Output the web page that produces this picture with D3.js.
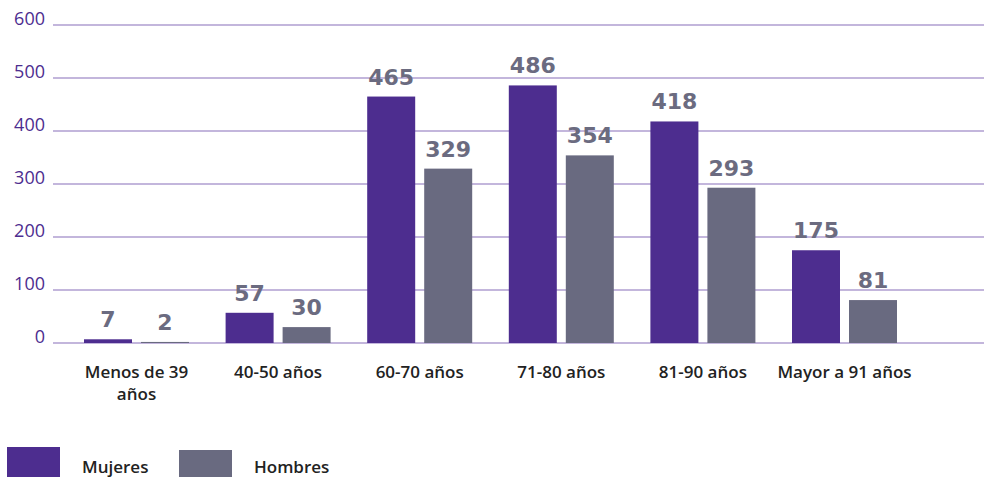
<!DOCTYPE html>
<html><head><meta charset="utf-8">
<script src="https://cdn.jsdelivr.net/npm/d3@7"></script>
<style>
html,body{margin:0;padding:0;background:#fff;}
svg{display:block;}
</style></head>
<body>
<svg id="chart" width="984" height="477"></svg>
<script>
const categories = [["Menos de 39","años"],["40-50 años"],["60-70 años"],["71-80 años"],["81-90 años"],["Mayor a 91 años"]];
const seriesNames = ["Mujeres","Hombres"];
const mujeres = [7,57,465,486,418,175];
const hombres = [2,30,329,354,293,81];
const yTicks = [0,100,200,300,400,500,600];
const colors = ["#4d2d8f","#696a80"];

const svg = d3.select("#chart");
const y = d3.scaleLinear().domain([0,600]).range([343,25]);
const x0 = d3.scaleBand().domain(d3.range(categories.length)).range([65.7,915.3]).padding(0);
const x1 = d3.scaleBand().domain(seriesNames).range([-52.5,52.5]).paddingInner(0.158).paddingOuter(0);

// gridlines
svg.append("g").selectAll("line").data(yTicks).join("line")
  .attr("x1",53).attr("x2",984)
  .attr("y1",d=>y(d)).attr("y2",d=>y(d))
  .attr("stroke","#c3b6dc").attr("stroke-width",2);

// y axis labels
const yAxis = d3.axisLeft(y).tickValues(yTicks).tickSize(0).tickPadding(0);
const ya = svg.append("g").attr("transform","translate(45,0)").call(yAxis);
ya.select(".domain").remove();
ya.selectAll("text").attr("font-family","Open Sans").attr("font-size",18)
  .attr("fill","#4d2d8f").attr("dy",0).attr("y",-1);

const data = [mujeres,hombres];
categories.forEach((cat,i)=>{
  const cx = x0(i)+x0.bandwidth()/2;
  seriesNames.forEach((s,j)=>{
    const v = data[j][i];
    const bx = cx + x1(s);
    svg.append("rect").attr("x",bx).attr("width",x1.bandwidth())
      .attr("y",y(v)).attr("height",y(0)-y(v)).attr("fill",colors[j]);
    svg.append("text").attr("x",bx+x1.bandwidth()/2).attr("y",y(v)-12)
      .attr("text-anchor","middle").attr("font-family","DejaVu Sans").attr("font-weight","bold")
      .attr("font-size",22).attr("fill","#6b6b80").text(v);
  });
  const t = svg.append("text").attr("x",cx).attr("y",378).attr("text-anchor","middle")
    .attr("font-family","Open Sans").attr("font-weight",600).attr("font-size",17).attr("fill","#222");
  cat.forEach((line,k)=>{
    t.append("tspan").attr("x",cx).attr("dy",k===0?0:22).text(line);
  });
});

// legend
const legend = [{x:7,y:447},{x:179,y:450}];
seriesNames.forEach((s,j)=>{
  svg.append("rect").attr("x",legend[j].x).attr("y",legend[j].y).attr("width",53).attr("height",30).attr("fill",colors[j]);
  svg.append("text").attr("x",legend[j].x+75).attr("y",473).attr("font-family","Open Sans").attr("font-weight",600)
    .attr("font-size",17).attr("fill","#222").text(s);
});
</script>
</body></html>
